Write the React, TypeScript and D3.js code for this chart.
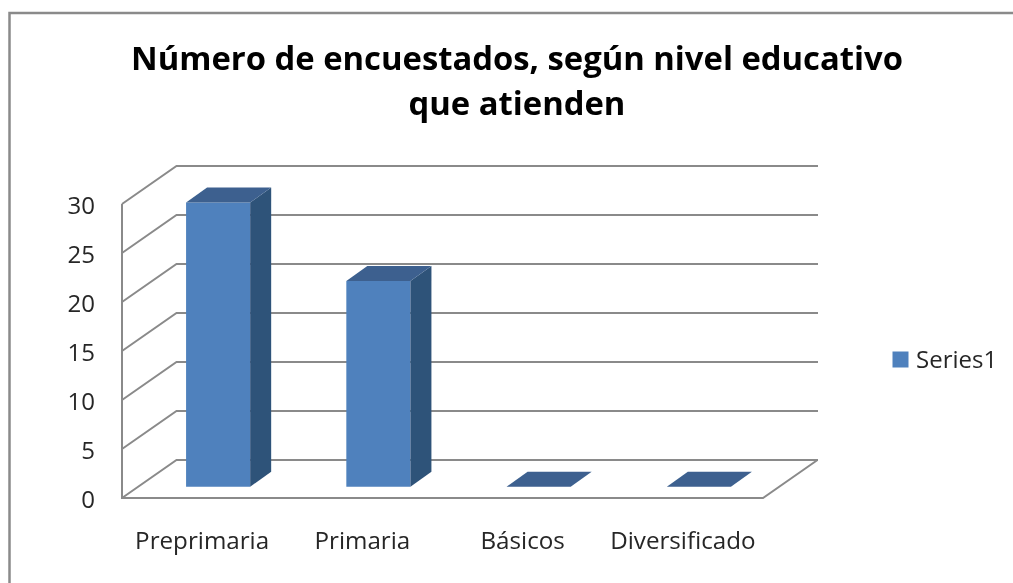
import React from "react";
import * as d3 from "d3";

const titleLines = ["Número de encuestados, según nivel educativo", "que atienden"];
const categories = ["Preprimaria", "Primaria", "Básicos", "Diversificado"];
const seriesName = "Series1";
const values = [29, 21, 0, 0];
const yTicks = [0, 5, 10, 15, 20, 25, 30];

const W = 1013, H = 583;
const font = "'Open Sans', Lato, sans-serif";
const x = d3.scaleBand<string>().domain(categories).range([122, 763]).paddingInner(0.6).paddingOuter(0.3);
const y = d3.scaleLinear().domain([0, 30]).range([498, 204]);
const depth = { dx: 54.5, dy: -38 };
const bar = { off: 16, dx: 21, dy: -15, base: -11.3 };
const grid = "#8a8a8a";
const poly = (p: [number, number][]) => d3.line()(p) + "Z";

export default function App() {
  const x0 = x.range()[0], x1 = x.range()[1];
  return (
    <svg width={W} height={H} style={{ position: "absolute", left: 0, top: 0, background: "#fff" }}>
      <defs>
        <filter id="soft" x="-5%" y="-5%" width="110%" height="110%"><feGaussianBlur stdDeviation="0.45" /></filter>
      </defs>
      <g filter="url(#soft)">
        <path d={`M9.5 ${H}V13H${W}`} fill="none" stroke="#8a8a8a" strokeWidth={2.5} />
        {yTicks.map((t) => (
          <path key={t} fill="none" stroke={grid} strokeWidth={2}
            d={d3.line()([[x0, y(t)], [x0 + depth.dx, y(t) + depth.dy], [818, y(t) + depth.dy]]) as string} />
        ))}
        <path fill="none" stroke={grid} strokeWidth={2}
          d={d3.line()([[x0, y(30)], [x0, y(0)], [x1, y(0)], [x1 + depth.dx, y(0) + depth.dy]]) as string} />
        {categories.map((c, i) => {
          const l = (x(c) as number) + bar.off, r = l + x.bandwidth();
          const b = y(0) + bar.base, t = b - (y(0) - y(values[i]));
          return (
            <g key={c}>
              {values[i] > 0 && <path d={poly([[l, t], [r, t], [r, b], [l, b]])} fill="#4f81bd" />}
              {values[i] > 0 && <path d={poly([[r, t], [r + bar.dx, t + bar.dy], [r + bar.dx, b + bar.dy], [r, b]])} fill="#2f5279" />}
              <path d={poly([[l, t], [l + bar.dx, t + bar.dy], [r + bar.dx, t + bar.dy], [r, t]])} fill="#3c618f" />
            </g>
          );
        })}
        {yTicks.map((t) => (
          <text key={t} x={95} y={y(t) + 9.5} textAnchor="end" fontFamily={font} fontSize={24} fill="#262626">{t}</text>
        ))}
        {categories.map((c) => (
          <text key={c} x={(x(c) as number) + x.bandwidth() / 2} y={549} textAnchor="middle" fontFamily={font} fontSize={24.2} fill="#262626">{c}</text>
        ))}
        {titleLines.map((s, i) => (
          <text key={s} x={517} y={70 + i * 45} textAnchor="middle" fontFamily={font} fontWeight={700} fontSize={32.8} fill="#000">{s}</text>
        ))}
        <rect x={892.5} y={351.5} width={16} height={16} fill="#4f81bd" />
        <text x={916} y={368} fontFamily={font} fontSize={24} fill="#262626">{seriesName}</text>
      </g>
    </svg>
  );
}
